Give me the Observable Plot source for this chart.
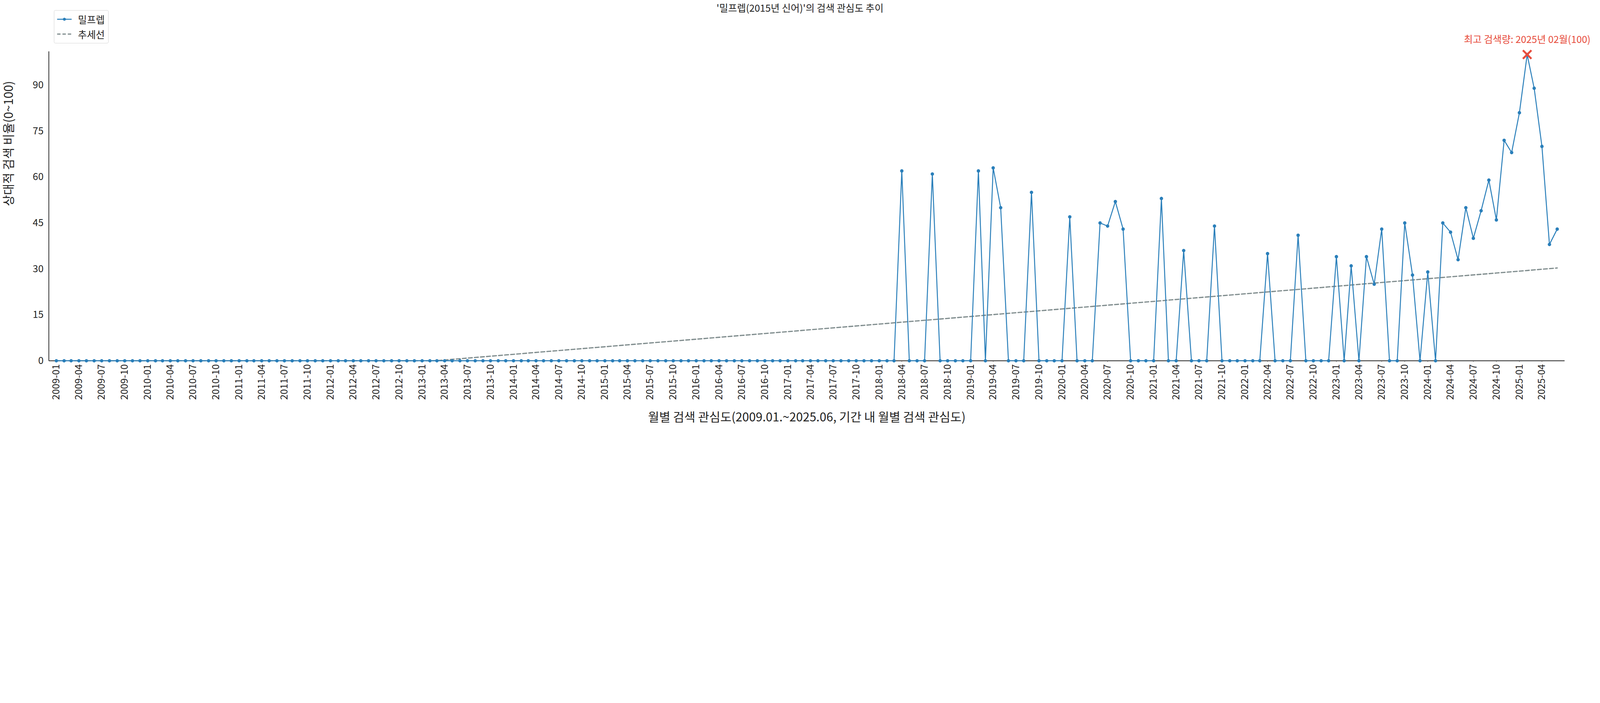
<!DOCTYPE html>
<html>
<head>
<meta charset="utf-8">
<script src="https://cdn.jsdelivr.net/npm/d3@7"></script>
<script src="https://cdn.jsdelivr.net/npm/@observablehq/plot@0.6"></script>
<style>
  :root { --u: calc(100vw / 6600); }
  html, body { margin: 0; background: #fff; overflow: hidden; font-family: "Noto Sans CJK KR", "Noto Sans", sans-serif; }
  #wrap { position: relative; width: 100vw; }
  #chart svg { display: block; width: 100vw; height: auto; max-width: none; }
  #title { position: absolute; top: calc(2 * var(--u)); left: 0; width: 100%; text-align: center; font-size: calc(40 * var(--u)); color: #222; }
  #legend { position: absolute; left: calc(222 * var(--u)); top: calc(42 * var(--u)); border: calc(3 * var(--u)) solid #d5d5d5; border-radius: calc(6 * var(--u)); padding: calc(4 * var(--u)) calc(14 * var(--u)) calc(6 * var(--u)) calc(10 * var(--u)); font-size: calc(40 * var(--u)); color: #222; background: #fff; }
  #legend div { display: flex; align-items: center; height: calc(62 * var(--u)); }
  #legend svg { margin-right: calc(24 * var(--u)); width: calc(64 * var(--u)); height: calc(20 * var(--u)); }
</style>
</head>
<body>
<div id="wrap">
  <div id="chart"></div>
  <div id="title">'밀프렙(2015년 신어)'의 검색 관심도 추이</div>
  <div id="legend">
    <div><svg viewBox="0 0 64 20"><line x1="2" y1="10" x2="62" y2="10" stroke="#2a7fba" stroke-width="4"/><circle cx="32" cy="10" r="6" fill="#2a7fba"/></svg>밀프렙</div>
    <div><svg viewBox="0 0 64 20"><line x1="2" y1="10" x2="62" y2="10" stroke="#7f8c8d" stroke-width="5" stroke-dasharray="14,8"/></svg>추세선</div>
  </div>
</div>
<script>
// months 2009-01 .. 2025-06
const startYear = 2009;
// 2009-01 .. 2018-03 all zero (111 months)
const zerosBefore = 111;
// 2018-04 .. 2025-06
const values2018to2025 = [
  62, 0, 0, 0, 61, 0, 0, 0, 0,
  0, 62, 0, 63, 50, 0, 0, 0, 55, 0, 0, 0,
  0, 47, 0, 0, 0, 45, 44, 52, 43, 0, 0, 0,
  0, 53, 0, 0, 36, 0, 0, 0, 44, 0, 0, 0,
  0, 0, 0, 35, 0, 0, 0, 41, 0, 0, 0, 0,
  34, 0, 31, 0, 34, 25, 43, 0, 0, 45, 28, 0,
  29, 0, 45, 42, 33, 50, 40, 49, 59, 46, 72, 68,
  81, 100, 89, 70, 38, 43
];
const yTicks = [0, 15, 30, 45, 60, 75, 90];

const values = Array(zerosBefore).fill(0).concat(values2018to2025);
const data = values.map((v, i) => ({
  date: new Date(Date.UTC(startYear, i, 1)),
  i, value: v
}));

// linear regression trend, floored at 0
const mx = d3.mean(data, d => d.i), my = d3.mean(data, d => d.value);
const slope = d3.sum(data, d => (d.i - mx) * (d.value - my)) / d3.sum(data, d => (d.i - mx) ** 2);
const trend = data.map(d => ({date: d.date, value: Math.max(0, my + slope * (d.i - mx))}));

const peak = data.reduce((a, b) => (b.value > a.value ? b : a));
const peakLabel = `최고 검색량: ${peak.date.getUTCFullYear()}년 ${String(peak.date.getUTCMonth() + 1).padStart(2, "0")}월(${peak.value})`;

const xTicks = data.filter(d => d.i % 3 === 0).map(d => d.date);
const fmt = d3.utcFormat("%Y-%m");
const x0 = new Date(Date.UTC(2008, 11, 2));

const chart = Plot.plot({
  width: 6600,
  height: 1800,
  marginLeft: 201,
  marginRight: 146,
  marginTop: 212,
  marginBottom: 312,
  style: {fontFamily: "'Noto Sans CJK KR', sans-serif", fontSize: "40px", color: "#222"},
  x: {
    type: "utc",
    domain: [x0, new Date(Date.UTC(2025, 6, 1))],
    ticks: xTicks, tickFormat: fmt, tickRotate: -90, tickSize: 6, tickPadding: 8,
    label: null
  },
  y: {domain: [0, 101], ticks: yTicks, tickSize: 0, tickPadding: 22, label: null},
  marks: [
    Plot.ruleX([x0], {y1: 0, y2: 101, stroke: "#222", strokeWidth: 3}),
    Plot.ruleY([0], {stroke: "#222", strokeWidth: 3}),
    Plot.line(trend, {x: "date", y: "value", stroke: "#7f8c8d", strokeWidth: 5, strokeDasharray: "16,9"}),
    Plot.line(data, {x: "date", y: "value", stroke: "#2a7fba", strokeWidth: 4}),
    Plot.dot(data, {x: "date", y: "value", fill: "#2a7fba", r: 7}),
    Plot.dot([peak], {x: "date", y: "value", symbol: "times", stroke: "#e74c3c", strokeWidth: 8, r: 16}),
    Plot.text([peak], {x: "date", y: "value", text: () => peakLabel, dy: -60, fill: "#e74c3c", fontSize: 40}),
    Plot.text(["월별 검색 관심도(2009.01.~2025.06, 기간 내 월별 검색 관심도)"], {frameAnchor: "bottom", dy: 250, fontSize: 50, fill: "#222"}),
    Plot.text(["상대적 검색 비율(0~100)"], {frameAnchor: "left", dx: -165, rotate: -90, fontSize: 50, fill: "#222"})
  ]
});
document.getElementById("chart").appendChild(chart);
</script>
</body>
</html>
